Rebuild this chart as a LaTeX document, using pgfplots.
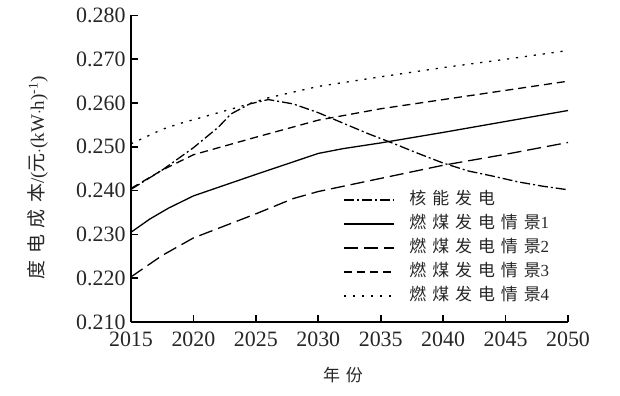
\documentclass[border=0pt]{standalone}
\usepackage{fontspec}
\setmainfont{Liberation Serif}
\newfontfamily\cjk[LetterSpace=35]{Noto Sans CJK SC}
\usepackage{pgfplots}
\pgfplotsset{compat=1.18}
\begin{document}
\begin{tikzpicture}
\path[use as bounding box] (-131bp,-74bp) rectangle (489bp,322bp);
\begin{axis}[
  at={(0,0)}, anchor=south west,
  width=437bp, height=306.5bp, scale only axis,
  xmin=2015, xmax=2050, ymin=0.21, ymax=0.28,
  axis x line=bottom, axis y line=left,
  axis line style={-, line width=1.6bp, black},
  xtick={2015,2020,2025,2030,2035,2040,2045,2050},
  ytick={0.21,0.22,0.23,0.24,0.25,0.26,0.27,0.28},
  tick align=inside, major tick length=7bp,
  tick style={line width=1.6bp, black},
  /pgf/number format/assume math mode=true,
  x tick label style={/pgf/number format/1000 sep={}, font=\fontsize{22}{22}\selectfont, text=black!85, yshift=-6bp},
  y tick label style={/pgf/number format/fixed, /pgf/number format/fixed zerofill, /pgf/number format/precision=3, font=\fontsize{22}{22}\selectfont, text=black!85, xshift=-2bp},
  xlabel={\cjk 年份},
  ylabel={{\cjk 度电成本}/({\cjk 元}$\cdot$(kW$\cdot$h)\textsuperscript{-1})},
  every axis x label/.style={at={(axis description cs:0.485,-0.173)}, anchor=center, font=\fontsize{17}{17}\selectfont, text=black!85},
  every axis y label/.style={at={(axis description cs:-0.213,0.47)}, rotate=90, anchor=center, font=\fontsize{19}{19}\selectfont, text=black!85},
  legend style={at={(axis description cs:0.485,0.43)}, anchor=north west, draw=none, fill=none,
    font=\fontsize{17}{17}\selectfont, text=black!85, row sep=5bp, inner sep=0pt,
    nodes={inner sep=2bp, text height=12bp, text depth=3bp}},
  legend cell align=left,
  legend image code/.code={\draw[#1] (0bp,0bp) -- (50bp,0bp);},
  /tikz/every odd column/.append style={column sep=13bp},
  every axis plot/.append style={line width=1.3bp, black},
]
\addplot[dash pattern=on 10bp off 3bp on 2bp off 3bp] coordinates {
(2015,0.2403) (2017.5,0.2447) (2020,0.2498) (2022,0.2545) (2023,0.2575) (2024.5,0.2598)
(2026,0.2608) (2028,0.2598) (2030,0.2578) (2032,0.2554) (2034,0.2530) (2036,0.2508)
(2038,0.2485) (2040,0.2463) (2042,0.2445) (2044,0.2433) (2046,0.2420) (2048,0.2410) (2050,0.2402)};
\addlegendentry{\cjk 核能发电}
\addplot[solid] coordinates {
(2015,0.2305) (2016.5,0.2335) (2018,0.2360) (2020,0.2388) (2025,0.2437) (2030,0.2485)
(2032,0.2496) (2035,0.2509) (2040,0.2533) (2045,0.2558) (2050,0.2583)};
\addlegendentry{{\cjk 燃煤发电情景}1}
\addplot[dash pattern=on 14bp off 6bp] coordinates {
(2015,0.2203) (2017.5,0.2252) (2020,0.2292) (2025,0.2347) (2028,0.2382) (2030,0.2398)
(2035,0.2428) (2040,0.2458) (2045,0.2483) (2050,0.2510)};
\addlegendentry{{\cjk 燃煤发电情景}2}
\addplot[dash pattern=on 8bp off 5bp] coordinates {
(2015,0.2405) (2017.5,0.2447) (2020,0.2482) (2025,0.2522) (2030,0.2561) (2035,0.2587)
(2040,0.2608) (2045,0.2629) (2050,0.2650)};
\addlegendentry{{\cjk 燃煤发电情景}3}
\addplot[dash pattern=on 2.2bp off 6.8bp] coordinates {
(2015,0.2507) (2017.5,0.2540) (2019,0.2554) (2021,0.2570) (2023.5,0.2590) (2026,0.2612)
(2030,0.2638) (2035,0.2660) (2040,0.2681) (2045,0.2700) (2050,0.2720)};
\addlegendentry{{\cjk 燃煤发电情景}4}
\end{axis}
\end{tikzpicture}
\end{document}
